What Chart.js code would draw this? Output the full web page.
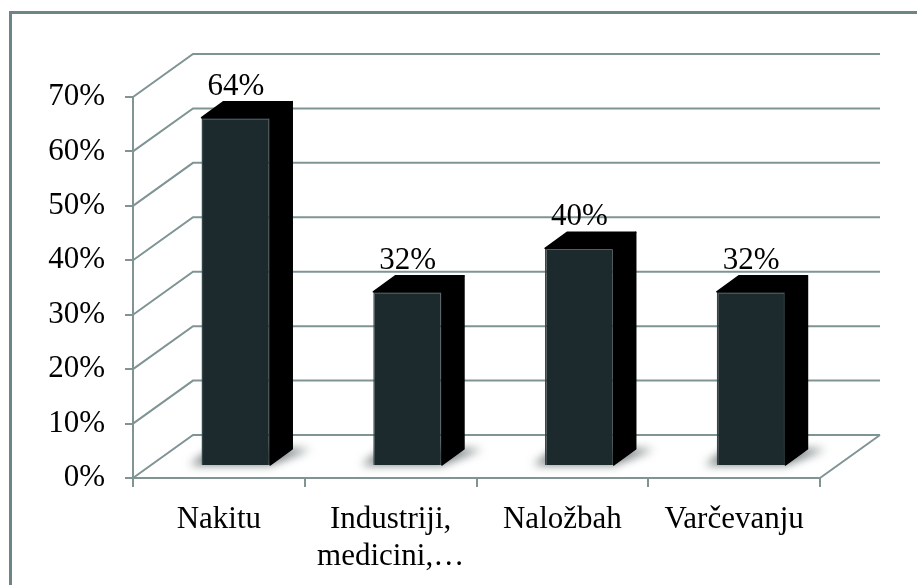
<!DOCTYPE html>
<html lang="sl">
<head>
  <meta charset="UTF-8" />
  <title>Uporaba zlata</title>
  <script src="https://cdn.jsdelivr.net/npm/chart.js"></script>
  <style>
    html, body { margin: 0; padding: 0; background: #fff; }
    #wrap { position: relative; width: 917px; height: 585px; overflow: hidden; }
  </style>
</head>
<body>
  <div id="wrap"><canvas id="zlatoChart" width="917" height="585"></canvas></div>

  <script>
    // podatki
    const kategorije = ['Nakitu', ['Industriji,', 'medicini,…'], 'Naložbah', 'Varčevanju'];
    const odstotki = [64, 32, 40, 32];
    const yTicks = [0, 10, 20, 30, 40, 50, 60, 70];

    const gridColor = '#809494';
    const serif = 'Liberation Serif, Times New Roman, serif';

    // 3D zamiki (zadnja stena, sprednja ploskev stolpca, globina stolpca)
    const WALL = { dx: 60, dy: -43 };
    const FRONT = { dx: 17, dy: -12 };
    const DEPTH = { dx: 22, dy: -16 };

    const box3d = {
      id: 'box3d',
      beforeDraw(chart) {
        const ctx = chart.ctx;
        ctx.save();
        ctx.fillStyle = '#6f8585';
        ctx.fillRect(9, 11, 917, 3);
        ctx.fillRect(9, 11, 3, 585);
        ctx.restore();
      },
      beforeDatasetsDraw(chart) {
        const ctx = chart.ctx;
        const a = chart.chartArea;
        const y = chart.scales.y;
        ctx.save();
        ctx.strokeStyle = gridColor;
        ctx.lineWidth = 2;
        yTicks.forEach(v => {
          const py = y.getPixelForValue(v);
          ctx.beginPath();
          ctx.moveTo(a.left, py);
          ctx.lineTo(a.left + WALL.dx, py + WALL.dy);
          ctx.lineTo(a.right + WALL.dx, py + WALL.dy);
          ctx.stroke();
        });
        ctx.beginPath();
        ctx.moveTo(a.right, a.bottom);
        ctx.lineTo(a.right + WALL.dx, a.bottom + WALL.dy);
        ctx.stroke();

        // sence na tleh
        ctx.filter = 'blur(5px)';
        ctx.fillStyle = 'rgba(70,80,80,0.75)';
        chart.getDatasetMeta(0).data.forEach(bar => {
          const l = bar.x - bar.width / 2 + FRONT.dx - 12;
          const r = bar.x + bar.width / 2 + FRONT.dx;
          const b = bar.base + FRONT.dy;
          ctx.beginPath();
          ctx.moveTo(l, b);
          ctx.lineTo(r, b);
          ctx.lineTo(r + DEPTH.dx + 18, b + DEPTH.dy);
          ctx.lineTo(l + DEPTH.dx, b + DEPTH.dy);
          ctx.closePath();
          ctx.fill();
        });
        ctx.restore();

        ctx.save();
        ctx.translate(FRONT.dx, FRONT.dy);
      },
      afterDatasetsDraw(chart) {
        const ctx = chart.ctx;
        const meta = chart.getDatasetMeta(0);
        ctx.fillStyle = '#000';
        ctx.strokeStyle = '#000';
        ctx.lineJoin = 'round';
        ctx.lineWidth = 1.5;
        meta.data.forEach(bar => {
          const l = bar.x - bar.width / 2;
          const r = bar.x + bar.width / 2;
          const t = bar.y, b = bar.base;
          // desna stranica
          ctx.beginPath();
          ctx.moveTo(r, t);
          ctx.lineTo(r + DEPTH.dx, t + DEPTH.dy);
          ctx.lineTo(r + DEPTH.dx, b + DEPTH.dy);
          ctx.lineTo(r, b);
          ctx.closePath();
          ctx.fill();
          ctx.stroke();
          // zgornja ploskev
          ctx.beginPath();
          ctx.moveTo(l, t);
          ctx.lineTo(l + DEPTH.dx, t + DEPTH.dy);
          ctx.lineTo(r + DEPTH.dx, t + DEPTH.dy);
          ctx.lineTo(r, t);
          ctx.closePath();
          ctx.fill();
          ctx.stroke();
        });
        ctx.restore();

        // oznake vrednosti
        ctx.save();
        ctx.font = '31px ' + serif;
        ctx.fillStyle = '#000';
        ctx.textAlign = 'center';
        ctx.textBaseline = 'middle';
        meta.data.forEach((bar, i) => {
          ctx.fillText(odstotki[i] + '%', bar.x + FRONT.dx, bar.y + FRONT.dy - 31);
        });
        ctx.restore();
      }
    };

    new Chart(document.getElementById('zlatoChart'), {
      type: 'bar',
      data: {
        labels: kategorije,
        datasets: [{
          data: odstotki,
          backgroundColor: '#1c292d',
          borderColor: '#324448',
          borderWidth: 1.5,
          barPercentage: 0.4,
          categoryPercentage: 1,
          clip: false
        }]
      },
      options: {
        responsive: false,
        animation: false,
        layout: { padding: { left: 0, top: 97, right: 97, bottom: 0 } },
        plugins: { legend: { display: false }, tooltip: { enabled: false } },
        scales: {
          y: {
            min: 0,
            max: 70,
            afterFit: s => { s.width = 133; },
            afterBuildTicks: s => { s.ticks = yTicks.map(v => ({ value: v })); },
            ticks: {
              color: '#000',
              padding: 20,
              font: { family: serif, size: 31 },
              callback: v => v + '%'
            },
            grid: { drawOnChartArea: false, color: gridColor, lineWidth: 2, tickLength: 8 },
            border: { color: gridColor, width: 2 }
          },
          x: {
            afterFit: s => { s.height = 107; },
            ticks: {
              color: '#000',
              padding: 14,
              maxRotation: 0,
              autoSkip: false,
              font: { family: serif, size: 31, lineHeight: 1.2 }
            },
            grid: { drawOnChartArea: false, color: gridColor, lineWidth: 2, tickLength: 9 },
            border: { color: gridColor, width: 2 }
          }
        }
      },
      plugins: [box3d]
    });
  </script>
</body>
</html>
